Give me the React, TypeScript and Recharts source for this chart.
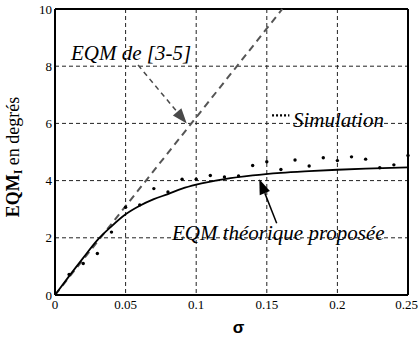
import React from 'react';
import {
  ComposedChart,
  Line,
  Scatter,
  XAxis,
  YAxis,
  CartesianGrid,
  ReferenceLine,
  ReferenceDot,
} from 'recharts';

// sigma values of the simulated points and the measured EQM (degrees)
const simSigma = [0.01, 0.02, 0.03, 0.04, 0.05, 0.06, 0.07, 0.08, 0.09, 0.1, 0.11, 0.12, 0.13, 0.14, 0.15, 0.16, 0.17, 0.18, 0.19, 0.2, 0.21, 0.22, 0.23, 0.24, 0.25];
const simValues = [0.72, 1.1, 1.45, 2.2, 3.07, 3.15, 3.72, 3.6, 4.05, 4.05, 4.18, 4.13, 4.16, 4.53, 4.66, 4.39, 4.72, 4.51, 4.8, 4.7, 4.83, 4.75, 4.45, 4.55, 4.88];

// proposed theoretical curve
const theoSigma = [0, 0.01, 0.02, 0.03, 0.04, 0.05, 0.06, 0.07, 0.08, 0.09, 0.1, 0.12, 0.14, 0.16, 0.18, 0.2, 0.22, 0.25];
const theoValues = [0, 0.66, 1.3, 1.92, 2.4, 2.82, 3.12, 3.35, 3.53, 3.72, 3.86, 4.05, 4.18, 4.27, 4.33, 4.38, 4.42, 4.46];

// EQM de [3-5]
const refSigma = [0, 0.161];
const refValues = [0, 10];

const xTicks = [0, 0.05, 0.1, 0.15, 0.2, 0.25];
const yTicks = [0, 2, 4, 6, 8, 10];

const simData = simSigma.map((s, i) => ({ sigma: s, value: simValues[i] }));
const theoData = theoSigma.map((s, i) => ({ sigma: s, value: theoValues[i] }));
const refData = refSigma.map((s, i) => ({ sigma: s, value: refValues[i] }));

const SERIF = "'Times New Roman', 'Liberation Serif', Times, serif";

// arrow drawn from segment start (tail) to end (tip)
const makeArrow = (color: string, dash?: string) => (props: any) => {
  const { x1, y1, x2, y2 } = props;
  const ang = Math.atan2(y2 - y1, x2 - x1);
  const len = 15;
  const half = 5.5;
  const bx = x2 - len * Math.cos(ang);
  const by = y2 - len * Math.sin(ang);
  const px = -Math.sin(ang) * half;
  const py = Math.cos(ang) * half;
  return (
    <g>
      <line x1={x1} y1={y1} x2={bx} y2={by} stroke={color} strokeWidth={1.5} strokeDasharray={dash} />
      <polygon points={`${x2},${y2} ${bx + px},${by + py} ${bx - px},${by - py}`} fill={color} />
    </g>
  );
};

const makeText = (txt: string) => (props: any) => (
  <text x={props.cx} y={props.cy} style={{ fontFamily: SERIF, fontStyle: 'italic', fontSize: 21 }} fill="#000">
    {txt}
  </text>
);

export default function App() {
  return (
    <div style={{ position: 'absolute', left: 0, top: 0, width: 418, height: 338, fontFamily: SERIF }}>
      <ComposedChart width={418} height={338} margin={{ top: 9, right: 10, left: 0, bottom: 0 }}>
        <CartesianGrid stroke="#222" strokeDasharray="4 3" strokeWidth={1} />
        <XAxis
          type="number"
          dataKey="sigma"
          domain={[0, 0.25]}
          ticks={xTicks}
          height={43}
          tickSize={0}
          tickMargin={5}
          axisLine={{ stroke: '#000', strokeWidth: 2 }}
          tick={{ fontSize: 13, fill: '#000', style: { fontFamily: SERIF } }}
          label={{
            content: (p: any) => (
              <text
                x={p.viewBox.x + p.viewBox.width / 2 + 7}
                y={p.viewBox.y + 38}
                textAnchor="middle"
                style={{ fontFamily: "'Liberation Sans', Arial, sans-serif", fontWeight: 'bold', fontSize: 17 }}
                fill="#000"
              >
                σ
              </text>
            ),
          }}
        />
        <YAxis
          type="number"
          domain={[0, 10]}
          ticks={yTicks}
          width={55}
          tickSize={0}
          tickMargin={3}
          axisLine={{ stroke: '#000', strokeWidth: 2 }}
          tick={{ fontSize: 13, fill: '#000', style: { fontFamily: SERIF } }}
          label={{
            content: (p: any) => {
              const cx = 18.5;
              const cy = p.viewBox.y + p.viewBox.height / 2 + 5;
              return (
                <text
                  x={cx}
                  y={cy}
                  transform={`rotate(-90 ${cx} ${cy})`}
                  textAnchor="middle"
                  style={{ fontFamily: SERIF, fontSize: 18 }}
                  fill="#000"
                >
                  <tspan fontWeight="bold">EQM</tspan>
                  <tspan fontWeight="bold" fontSize={12} dy={3}>I</tspan>
                  <tspan dy={-3}>{'  en  degrés'}</tspan>
                </text>
              );
            },
          }}
        />
        <ReferenceLine y={10} stroke="#000" strokeWidth={2} />
        <ReferenceLine x={0.25} stroke="#000" strokeWidth={2} />

        <Line
          data={refData}
          dataKey="value"
          type="linear"
          stroke="#555"
          strokeWidth={2}
          strokeDasharray="7 5"
          dot={false}
          isAnimationActive={false}
        />
        <Line
          data={theoData}
          dataKey="value"
          type="monotone"
          stroke="#000"
          strokeWidth={1.8}
          dot={false}
          isAnimationActive={false}
        />
        <Scatter data={simData} dataKey="value" fill="#000" isAnimationActive={false} shape={(p: any) => <circle cx={p.cx} cy={p.cy} r={1.7} fill="#000" />} />

        {/* annotations */}
        <ReferenceLine segment={[{ x: 0.0588, y: 8.04 }, { x: 0.0933, y: 6.0 }]} shape={makeArrow('#4a4a4a', '5 4')} />
        <ReferenceLine segment={[{ x: 0.157, y: 2.51 }, { x: 0.1447, y: 4.05 }]} shape={makeArrow('#000')} />
        <ReferenceLine segment={[{ x: 0.1537, y: 6.28 }, { x: 0.166, y: 6.28 }]} stroke="#000" strokeWidth={2.2} strokeDasharray="2 2" />
        <ReferenceDot x={0.0113} y={8.23} r={0} shape={makeText('EQM de [3-5]')} />
        <ReferenceDot x={0.1685} y={5.89} r={0} shape={makeText('Simulation')} />
        <ReferenceDot x={0.0828} y={1.92} r={0} shape={makeText('EQM théorique proposée')} />
      </ComposedChart>
    </div>
  );
}
